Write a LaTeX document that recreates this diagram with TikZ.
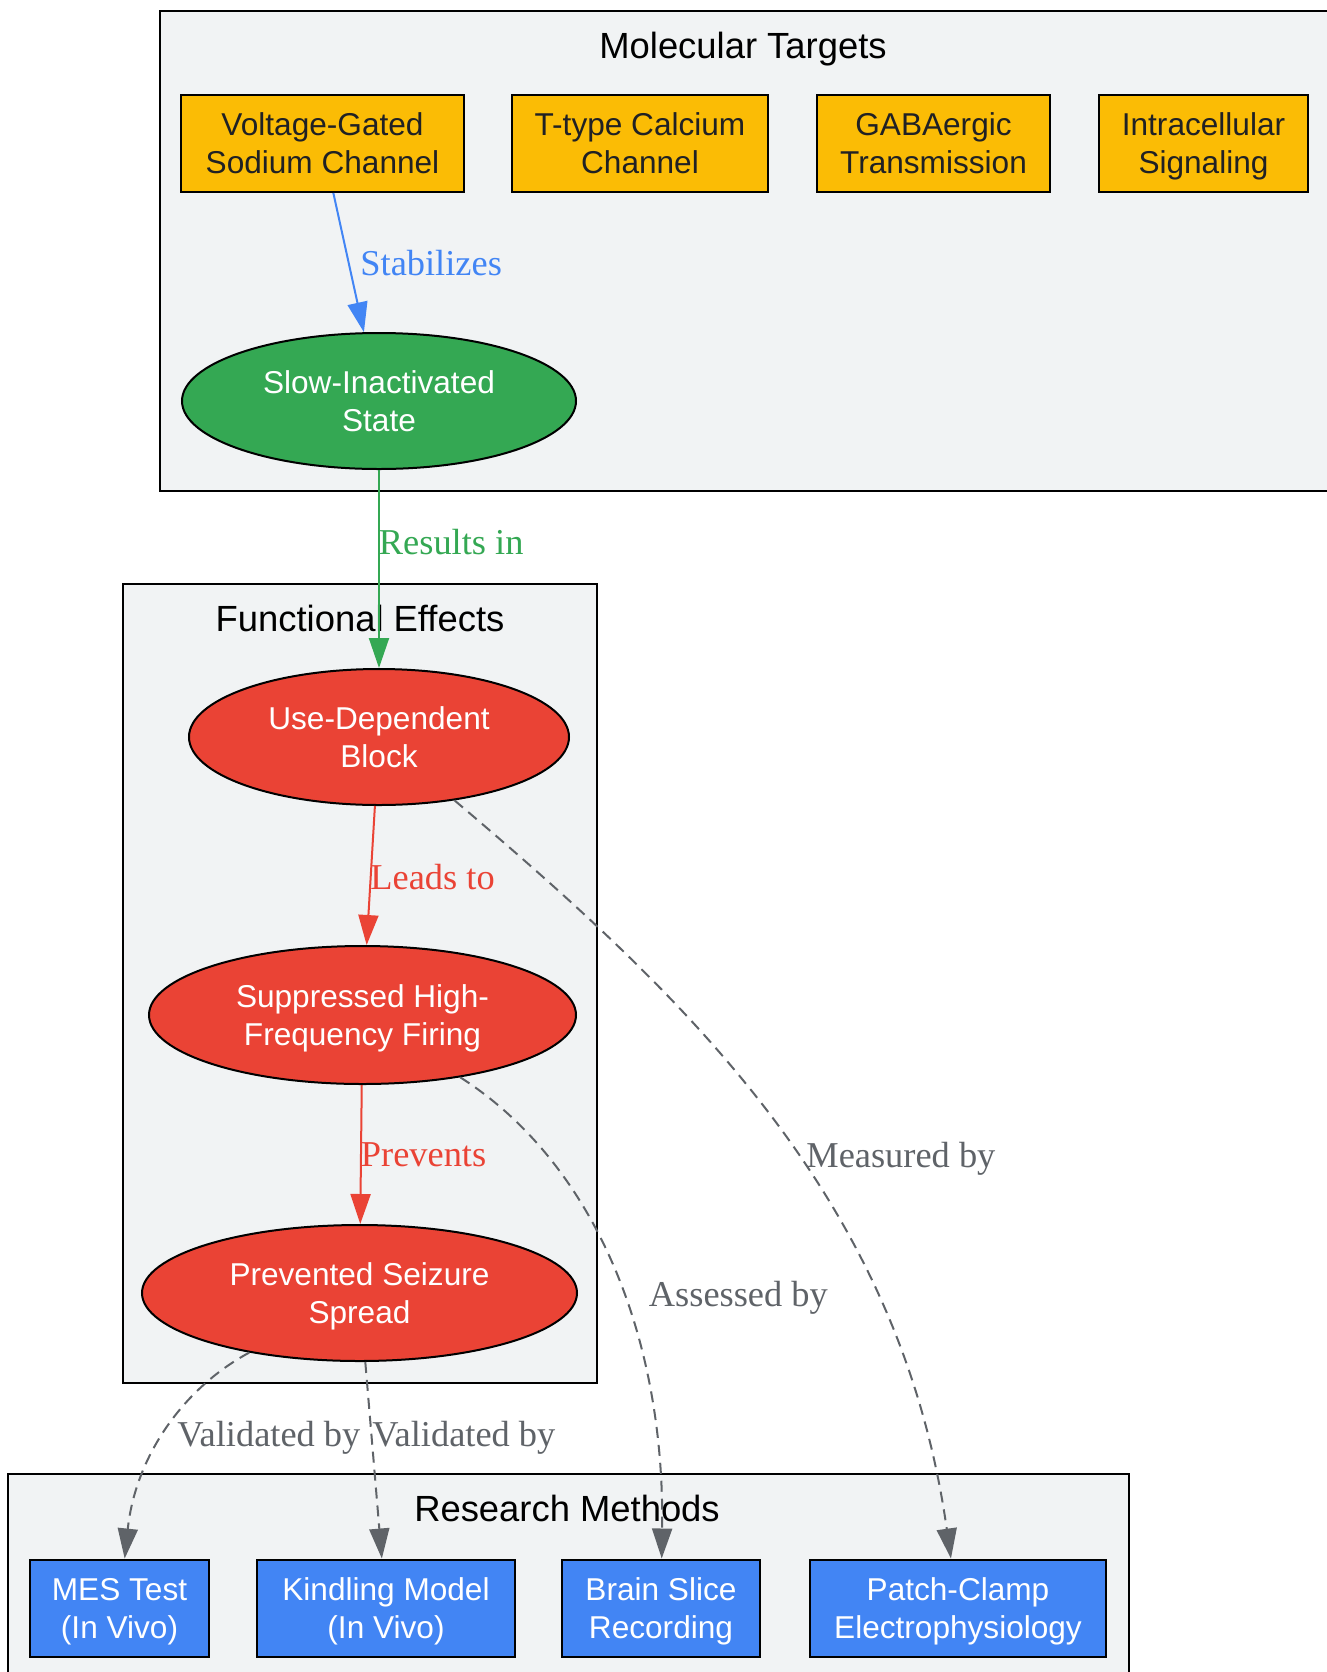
\documentclass[tikz,border=0pt]{standalone}
\usepackage{fontspec}
\setmainfont{Liberation Serif}
\newfontfamily\arialfont{Liberation Sans}
\usetikzlibrary{arrows.meta,shapes.geometric}
\definecolor{gorange}{HTML}{FBBC05}
\definecolor{ggreen}{HTML}{34A853}
\definecolor{gred}{HTML}{EA4335}
\definecolor{gblue}{HTML}{4285F4}
\definecolor{ggray}{HTML}{5F6368}
\definecolor{gpanel}{HTML}{F1F3F4}
\definecolor{gink}{HTML}{202124}
\begin{document}
\begin{tikzpicture}[x=0.5pt,y=-0.5pt,
    cluster/.style={draw=black,line width=1pt,fill=gpanel},
    ctitle/.style={inner sep=0pt,text depth=0pt,font=\arialfont\fontsize{18.2}{22}\selectfont},
    box/.style={rectangle,draw=black,line width=1pt,minimum height=48.5pt,inner sep=0pt,
      align=center,text depth=0pt,font=\arialfont\fontsize{15.8}{19}\selectfont},
    target/.style={box,fill=gorange,text=gink},
    method/.style={box,fill=gblue,text=white},
    oval/.style={ellipse,draw=black,line width=1pt,minimum height=68pt,inner sep=0pt,
      align=center,text depth=0pt,text=white,font=\arialfont\fontsize{15.8}{19}\selectfont},
    link/.style={line width=1pt,-{Triangle[length=15pt,width=10pt]}},
    probe/.style={link,draw=ggray,dash pattern=on 5.5pt off 3.5pt},
    lbl/.style={anchor=west,inner sep=0pt,text depth=0pt,font=\fontsize{18.2}{22}\selectfont}]
  \clip (0,0) rectangle (1327,1672);
  \fill[white] (0,0) rectangle (1327,1672);

  % clusters
  \draw[cluster] (160,10.7) rectangle (1345,491);
  \node[ctitle] (mtitle) at (743,45) {Molecular Targets};
  \draw[cluster] (122.7,583.5) rectangle (597,1382.5);
  \node[ctitle] (ftitle) at (360,618) {Functional Effects};
  \draw[cluster] (7.5,1474) rectangle (1128.5,1695);
  \node[ctitle] (rtitle) at (567,1508) {Research Methods};

  % molecular targets
  \node[target,minimum width=141.5pt] (na) at (322.5,143.5) {Voltage-Gated\\Sodium Channel};
  \node[target,minimum width=128pt] (ca) at (640,143.5) {T-type Calcium\\Channel};
  \node[target,minimum width=116.5pt] (gaba) at (933.5,143.5) {GABAergic\\Transmission};
  \node[target,minimum width=104.5pt] (sig) at (1203.5,143.5) {Intracellular\\Signaling};
  \node[oval,fill=ggreen,minimum width=197pt] (slow) at (379,401) {Slow-Inactivated\\State};

  % functional effects
  \node[oval,fill=gred,minimum width=190pt] (udb) at (379,737) {Use-Dependent\\Block};
  \node[oval,fill=gred,minimum width=213.5pt,minimum height=69pt] (hff) at (362.5,1015) {Suppressed High-\\Frequency Firing};
  \node[oval,fill=gred,minimum width=217.5pt] (pss) at (359.5,1293) {Prevented Seizure\\Spread};

  % research methods
  \node[method,minimum width=89.5pt] (mes) at (119.5,1608) {MES Test\\(In Vivo)};
  \node[method,minimum width=129pt] (kin) at (386,1608) {Kindling Model\\(In Vivo)};
  \node[method,minimum width=99pt] (slice) at (661,1608) {Brain Slice\\Recording};
  \node[method,minimum width=148pt] (patch) at (958,1608) {Patch-Clamp\\Electrophysiology};

  % mechanism chain
  \draw[link,gblue] (na) -- (slow);
  \node[lbl,text=gblue] (l1) at (360,263) {Stabilizes};
  \draw[link,ggreen] (slow) -- (udb);
  \node[lbl,text=ggreen] (l2) at (378.5,542) {Results in};
  \draw[link,gred] (udb) -- (hff);
  \node[lbl,text=gred] (l3) at (370,877) {Leads to};
  \draw[link,gred] (hff) -- (pss);
  \node[lbl,text=gred] (l4) at (360.5,1155) {Prevents};

  % experimental evidence
  \draw[probe] (udb.-40) .. controls (690,1000) and (900,1200) .. (patch);
  \node[lbl,text=ggray] (l5) at (806,1155) {Measured by};
  \draw[probe] (hff) .. controls (590,1160) and (665,1330) .. (slice);
  \node[lbl,text=ggray] (l6) at (648.5,1294) {Assessed by};
  \draw[probe] (pss) .. controls (180,1390) and (135,1460) .. (mes);
  \node[lbl,text=ggray] (l7) at (177,1434) {Validated by};
  \draw[probe] (pss) -- (kin);
  \node[lbl,text=ggray] (l8) at (372,1434) {Validated by};
\end{tikzpicture}
\end{document}
